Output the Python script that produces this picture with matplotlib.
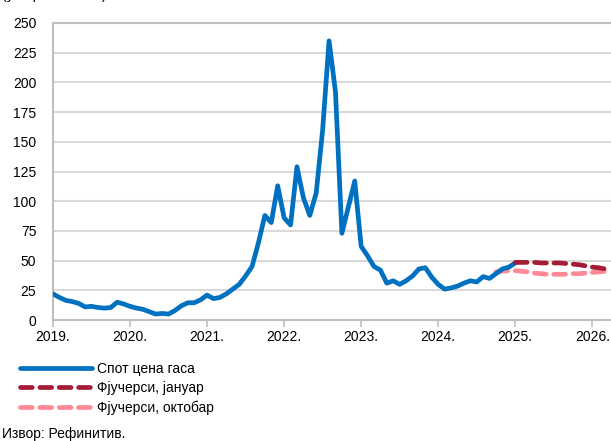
import matplotlib.pyplot as plt

plt.rcParams['font.family'] = ['Liberation Sans', 'DejaVu Sans']

# ==========================
# Data (monthly, Jan 2019 = 0)
# ==========================

spot = [
    22, 19, 16.5, 15.5, 14, 11, 11.5, 10.5, 10, 10.5, 15, 13.5,      # 2019
    11.5, 10, 9, 7, 5, 5.5, 5, 8, 12, 14.5, 14.5, 17,                # 2020
    21, 18, 19, 22, 26, 30, 37, 45, 65, 88, 82, 113,                 # 2021
    86, 80, 129, 103, 88, 107, 160, 235, 192, 73, 95, 117,           # 2022
    62, 54, 45, 42, 31, 33, 30, 33, 37, 43, 44, 36,                  # 2023
    30, 26, 27, 28.5, 31, 33, 32, 36.5, 35, 39, 43, 44.5,            # 2024
    48,                                                              # 2025
]

jan_start = 72
futures_jan = [48.5, 48.5, 48.5, 48.5, 48, 48, 48, 48,
               47.5, 47, 46.5, 45.5, 44.5, 44, 43, 42.5]

oct_start = 69
futures_oct = [40.5, 41, 41.5, 41.5, 41, 40.5, 39.5, 39, 38.5, 38.5,
               38.5, 38.5, 39, 39, 39.5, 40, 40.5, 41, 41]

years = ["2019.", "2020.", "2021.", "2022.", "2023.", "2024.", "2025.", "2026."]
y_ticks = [0, 25, 50, 75, 100, 125, 150, 175, 200, 225, 250]

# ==========================
# Figure
# ==========================

fig = plt.figure(figsize=(6.11, 4.41), dpi=100)
ax = fig.add_axes([53 / 611, 121 / 441, 90 * 6.42 / 611, 297 / 441])

grid_c = "#d9d9d9"
spine_c = "#bfbfbf"

ax.plot(range(len(spot)), spot, color="#0070C0", linewidth=3.4,
        solid_capstyle="round", label="Спот цена гаса", zorder=3)

ax.plot(range(jan_start, jan_start + len(futures_jan)), futures_jan,
        color="#A51C36", linewidth=3.4, dashes=(2.5, 1.6),
        dash_capstyle="round", label="Фјучерси, јануар", zorder=4)

ax.plot(range(oct_start, oct_start + len(futures_oct)), futures_oct,
        color="#FF8A96", linewidth=3.4, dashes=(2.5, 1.6),
        dash_capstyle="round", label="Фјучерси, октобар", zorder=2)

ax.set_xlim(0, 90)
ax.set_ylim(0, 250)

ax.set_xticks([12 * i for i in range(len(years))])
ax.set_xticklabels(years, fontsize=10)
ax.set_yticks(y_ticks)
ax.set_yticklabels([str(v) for v in y_ticks], fontsize=10)

ax.tick_params(axis="x", length=5, width=1.2, color=spine_c, pad=2)
ax.tick_params(axis="y", length=0, pad=12)

ax.grid(axis="y", color=grid_c, linewidth=1.5)
ax.set_axisbelow(True)

for s in ax.spines.values():
    s.set_color(spine_c)
    s.set_linewidth(1.5)

# Legend
ax.legend(loc="upper left", bbox_to_anchor=(-33 / 578, -0.14),
          frameon=False, fontsize=10, handlelength=5.2, handletextpad=0.35,
          labelspacing=0.38, borderaxespad=0, borderpad=0)

# Texts (unit label is cut by the top edge, as in the original)
fig.text(2 / 611, 1 + 1 / 441, "(у еврима/MWh)", fontsize=10, va="baseline")
fig.text(2 / 611, 1 - 438 / 441, "Извор: Рефинитив.", fontsize=10, va="baseline")

plt.savefig("out.png", dpi=100)
